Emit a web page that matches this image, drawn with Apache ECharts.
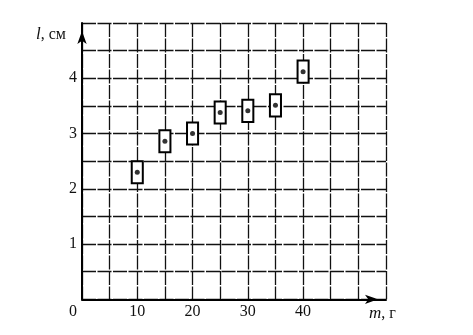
<!DOCTYPE html>
<html>
<head>
<meta charset="utf-8">
<script src="https://cdn.jsdelivr.net/npm/echarts@6/dist/echarts.min.js"></script>
<style>html,body{margin:0;padding:0;background:#fff}#c{width:473px;height:335px}</style>
</head>
<body>
<div id="c"></div>
<script>
// data
const masses = [10, 15, 20, 25, 30, 35, 40];          // m, г
const lengths = [2.3, 2.86, 3.0, 3.38, 3.41, 3.51, 4.12]; // l, см
const massError = 1;     // ± г
const lengthError = 0.2; // ± см
const xTickLabels = [0, 10, 20, 30, 40];
const yTickLabels = [1, 2, 3, 4];

const FONT = '"Liberation Serif", "DejaVu Serif", serif';
const chart = echarts.init(document.getElementById('c'), null, {renderer: 'canvas'});
const points = masses.map((m, i) => [m, lengths[i]]);

chart.setOption({
  animation: false,
  backgroundColor: '#fff',
  grid: {left: 82, right: 87, top: 23, bottom: 35.7, containLabel: false},
  xAxis: {
    type: 'value', min: 0, max: 55, interval: 5,
    axisLine: {show: true, onZero: false, lineStyle: {color: '#000', width: 2},
      symbol: ['none', 'arrow'], symbolSize: [7, 13], symbolOffset: [0, -8]},
    axisTick: {show: false},
    splitLine: {show: true, lineStyle: {color: '#111', width: 1.3, type: [14, 1.5]}},
    axisLabel: {
      margin: 4, color: '#111', fontFamily: FONT, fontSize: 16,
      formatter: v => xTickLabels.indexOf(v) < 0 ? '' : (v === 0 ? '{z|0}' : String(v)),
      rich: {z: {fontFamily: FONT, fontSize: 16, color: '#111', padding: [0, 18, 0, 0]}}
    }
  },
  yAxis: {
    type: 'value', min: 0, max: 5, interval: 0.5,
    axisLine: {show: true, onZero: false, lineStyle: {color: '#000', width: 2},
      symbol: ['none', 'arrow'], symbolSize: [7, 13], symbolOffset: [0, -8]},
    axisTick: {show: false},
    splitLine: {show: true, lineStyle: {color: '#111', width: 1.3, type: [14, 1.5]}},
    axisLabel: {
      margin: 5, color: '#111', fontFamily: FONT, fontSize: 16,
      formatter: v => yTickLabels.indexOf(v) < 0 ? '' : String(v)
    }
  },
  graphic: [
    {type: 'text', left: 36, top: 26, style: {
      text: '{i|l}{n|, см}', rich: {
        i: {fontFamily: FONT, fontStyle: 'italic', fontSize: 17, fill: '#111'},
        n: {fontFamily: FONT, fontSize: 16, fill: '#111'}}}},
    {type: 'text', left: 369, top: 305, style: {
      text: '{i|m}{n|, г}', rich: {
        i: {fontFamily: FONT, fontStyle: 'italic', fontSize: 17, fill: '#111'},
        n: {fontFamily: FONT, fontSize: 16, fill: '#111'}}}}
  ],
  series: [
    {
      type: 'custom',
      data: points,
      renderItem: (params, api) => {
        const x = api.value(0), y = api.value(1);
        const p1 = api.coord([x - massError, y + lengthError]);
        const p2 = api.coord([x + massError, y - lengthError]);
        return {type: 'rect', shape: {x: p1[0], y: p1[1], width: p2[0] - p1[0], height: p2[1] - p1[1]},
          style: {fill: '#fff', stroke: '#000', lineWidth: 2}};
      },
      z: 3
    },
    {
      type: 'scatter', data: points, symbol: 'circle', symbolSize: 5,
      itemStyle: {color: '#000'}, z: 4
    }
  ]
});
</script>
</body>
</html>
